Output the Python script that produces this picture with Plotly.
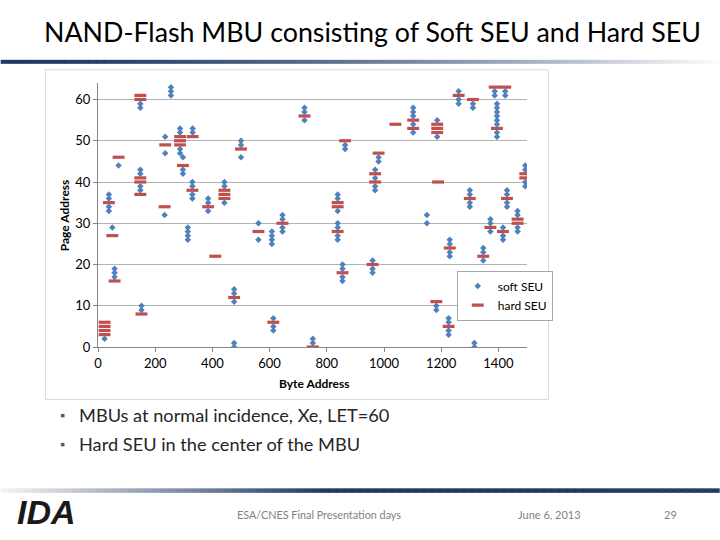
import plotly.graph_objects as go

# ---------------- data ----------------
cluster_x = [23, 38, 50, 58, 72, 148, 148, 152, 233, 235, 255, 287, 297, 331, 330,
             314, 385, 442, 410, 476, 476, 500, 561, 608, 645, 613, 722, 751, 838,
             838, 864, 855, 969, 981, 960, 1040, 1102, 1186, 1189, 1150, 1183, 1230,
             1226, 1261, 1311, 1316, 1300, 1347, 1387, 1424, 1395, 1372, 1416, 1430,
             1467, 1494]
soft_pages = [[2], [37, 36, 34, 33], [29], [19, 18, 17], [44], [43, 42, 39, 38],
              [59, 58], [10, 9], [32], [51, 47], [63, 62, 61], [53, 52, 48, 47],
              [46, 43, 42], [53, 52], [40, 39, 37, 36], [29, 28, 27, 26], [36, 35, 33],
              [40, 39, 35], [], [14, 13, 11], [1, 0], [50, 49, 46], [30, 26],
              [28, 27, 26, 25], [32, 31, 29, 28], [7, 5, 4], [58, 57, 55], [2, 1],
              [37, 36, 33], [30, 29, 27, 26], [49, 48], [20, 19, 17, 16],
              [43, 41, 39, 38], [46, 45], [21, 19, 18], [], [58, 57, 56, 54, 52],
              [55, 51], [], [32, 30], [10, 9], [26, 25, 23, 22], [7, 6, 4, 3],
              [62, 60, 59], [59, 58], [1, 0], [38, 37, 35, 34], [24, 23, 21],
              [62, 61], [62, 61], [59, 58, 57, 56, 55, 54, 52, 51], [31, 30, 28],
              [29, 27, 26], [38, 37, 35, 34], [33, 32, 29, 28], [44, 43, 40, 39]]
hard_pages = [[3, 4, 5, 6], [35], [27], [16], [46], [41, 40, 37], [61, 60], [8],
              [34], [49], [], [51, 50, 49], [44], [51], [38], [], [34], [38, 37, 36],
              [22], [12], [], [48], [28], [], [30], [6], [56], [0], [35, 34], [28],
              [50], [18], [42, 40], [47], [20], [54], [55, 53], [54, 53, 52], [40],
              [], [11], [24], [5], [61], [60], [], [36], [22], [63], [63], [53],
              [29], [28], [36], [31, 30], [42, 41]]

x_ticks = [0, 200, 400, 600, 800, 1000, 1200, 1400]
y_ticks = [0, 10, 20, 30, 40, 50, 60]

soft_x = [x for x, pg in zip(cluster_x, soft_pages) for _ in pg]
soft_y = [p for pg in soft_pages for p in pg]
hard_x = [x for x, pg in zip(cluster_x, hard_pages) for _ in pg]
hard_y = [p for pg in hard_pages for p in pg]

# ---------------- layout helpers (pixel -> paper) ----------------
L, R, T, B = 97.5, 527.4, 83.2, 347.5
W, H = R - L, B - T


def px(x):
    return (x - L) / W


def py(y):
    return (B - y) / H


FONT = "Lato"
BLUE = "#4F81BD"
RED = "#C0504D"

fig = go.Figure()
fig.add_trace(go.Scatter(
    x=soft_x, y=soft_y, mode="markers", name="soft SEU",
    marker=dict(symbol="diamond", size=5, color=BLUE, line=dict(width=0))))
fig.add_trace(go.Scatter(
    x=hard_x, y=hard_y, mode="markers", name="hard SEU",
    marker=dict(symbol="line-ew", size=8.5, color=RED,
                line=dict(color=RED, width=3.2))))

shapes = []
# chart area frame
shapes.append(dict(type="rect", xref="paper", yref="paper",
                   x0=px(45), x1=px(549), y0=py(400), y1=py(70),
                   line=dict(color="#D9D9D9", width=1), layer="below"))


def mix(c1, c2, t):
    return "rgb(%d,%d,%d)" % tuple(round(a + (b - a) * t) for a, b in zip(c1, c2))


navy = (31, 56, 100)
white = (255, 255, 255)
seg = 8
for i in range(0, 720, seg):
    t = min(1.0, (i / 720) ** 1.6)
    shapes.append(dict(type="rect", xref="paper", yref="paper",
                       x0=px(i), x1=px(i + seg + 0.5), y0=py(64), y1=py(60),
                       line=dict(width=0), fillcolor=mix(navy, white, t)))
    t2 = max(0.0, 1 - i / 320)
    shapes.append(dict(type="rect", xref="paper", yref="paper",
                       x0=px(i), x1=px(i + seg + 0.5), y0=py(493.5), y1=py(489),
                       line=dict(width=0), fillcolor=mix(navy, (242, 242, 242), t2)))

annotations = []


def txt(text, x, y, size, color="#000000", xanchor="left", bold=False,
        family=FONT, angle=0):
    if bold:
        text = "<b>" + text + "</b>"
    annotations.append(dict(text=text, x=px(x), y=py(y), xref="paper", yref="paper",
                            showarrow=False, xanchor=xanchor, yanchor="middle",
                            textangle=angle,
                            font=dict(size=size, color=color, family=family)))


txt("NAND-Flash MBU consisting of Soft SEU and Hard SEU", 41, 32, 26.8)
txt("Byte Address", 314, 384, 12, bold=True, xanchor="center")
txt("Page Address", 64, 216, 12, bold=True, xanchor="center", angle=-90)
txt("▪", 62, 416, 13, color="#3F5F8A", xanchor="center")
txt("▪", 62, 445, 13, color="#3F5F8A", xanchor="center")
txt("MBUs at normal incidence, Xe, LET=60", 76, 416, 18.2, color="#262626")
txt("Hard SEU in the center of the MBU", 76, 445, 18.2, color="#262626")
txt("ESA/CNES Final Presentation days", 319, 515, 10.8, color="#7F7F7F", xanchor="center")
txt("June 6, 2013", 550, 515, 11, color="#7F7F7F", xanchor="center")
txt("29", 671, 515, 11, color="#7F7F7F", xanchor="center")
txt("<i>IDA</i>", 46, 513, 34, color="#1A1A1A", bold=True, xanchor="center",
    family="Liberation Sans")

fig.update_layout(
    width=720, height=540,
    margin=dict(l=L, r=720 - R, t=T, b=540 - B, pad=0),
    paper_bgcolor="white", plot_bgcolor="white",
    font=dict(family=FONT, size=13, color="#000000"),
    showlegend=True,
    legend=dict(x=px(457), y=py(271), xanchor="left", yanchor="top",
                bgcolor="white", bordercolor="#A6A6A6", borderwidth=1,
                font=dict(size=12, family=FONT), tracegroupgap=4, itemwidth=30),
    shapes=shapes, annotations=annotations,
    xaxis=dict(range=[0, 1500], tickvals=x_ticks, showgrid=False, zeroline=False,
               showline=True, linecolor="#868686", linewidth=1,
               ticks="outside", ticklen=4, tickcolor="#868686",
               tickfont=dict(size=13, family=FONT)),
    yaxis=dict(range=[0, 64], tickvals=y_ticks, showgrid=True, gridcolor="#B3B3B3",
               gridwidth=1, zeroline=False, showline=True, linecolor="#868686",
               linewidth=1, ticks="outside", ticklen=4, tickcolor="#868686",
               tickfont=dict(size=13, family=FONT)),
)

fig.write_html("out.html", config={"displayModeBar": False},
               post_script="document.body.style.margin='0px';"
                           "document.body.style.padding='0px';")
